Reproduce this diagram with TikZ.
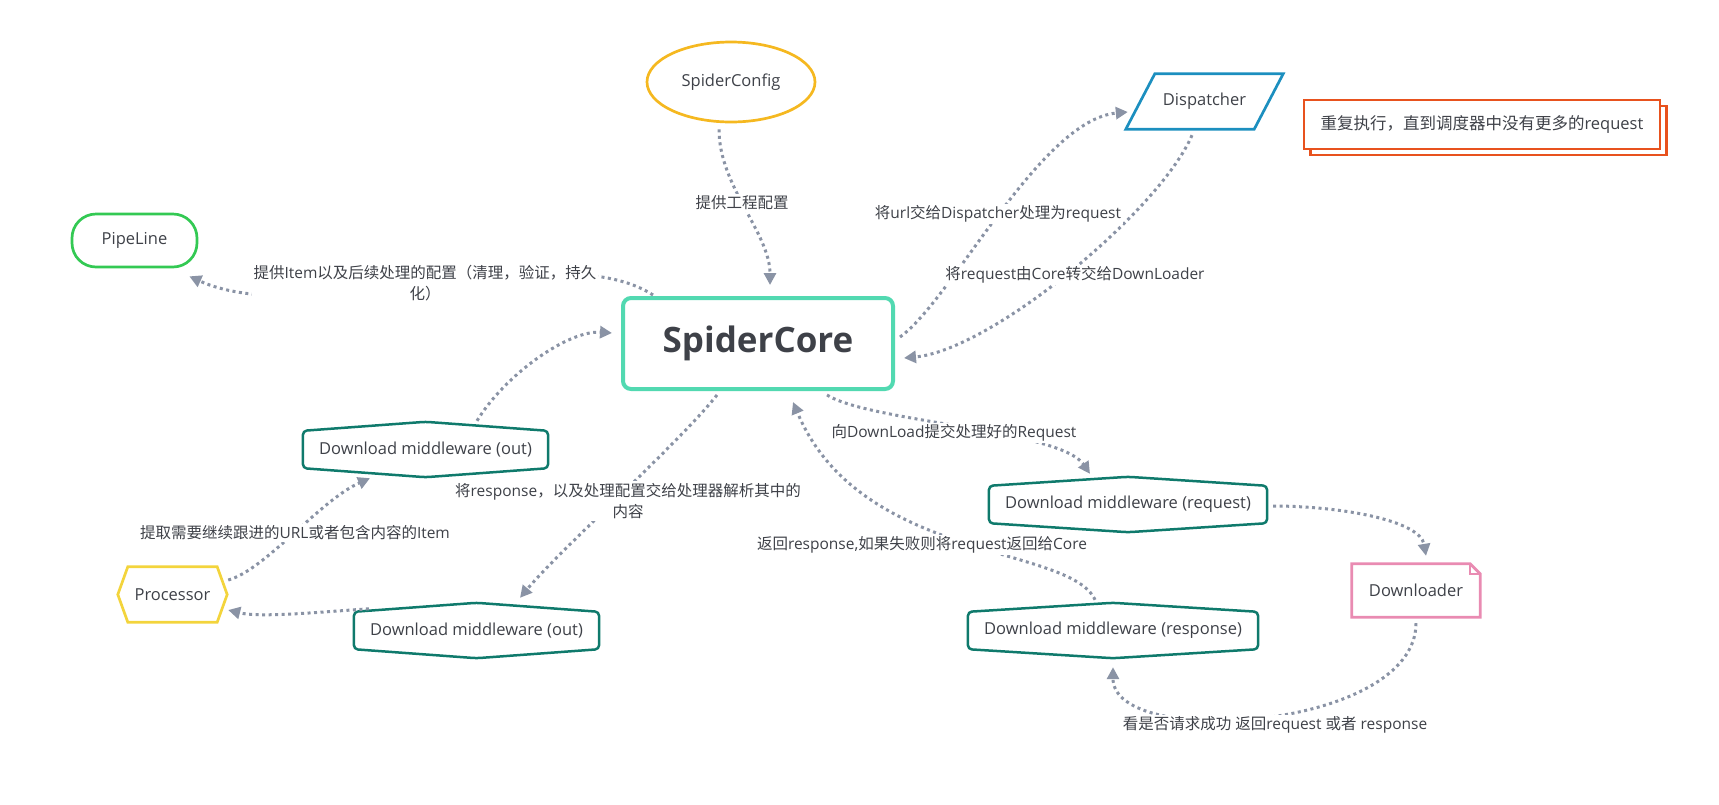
\documentclass[tikz,border=0pt]{standalone}
\usepackage{fontspec}
\setmainfont{Open Sans}
\newfontfamily\cjk{Noto Sans CJK SC}
\usepackage{tikz}
\usetikzlibrary{arrows.meta, shapes.geometric, shadows}
\definecolor{txt}{HTML}{3E4148}
\definecolor{linkgray}{HTML}{8A93A5}
\definecolor{coreline}{HTML}{52D9B1}
\definecolor{cfgline}{HTML}{F5B820}
\definecolor{displine}{HTML}{1C8FBF}
\definecolor{pipeline}{HTML}{33C953}
\definecolor{mwline}{HTML}{0F7A6C}
\definecolor{procline}{HTML}{F3D43C}
\definecolor{dlline}{HTML}{E98BB2}
\definecolor{noteline}{HTML}{E8521E}
\newcommand{\zh}[1]{{\cjk #1}}

\begin{document}
\begin{tikzpicture}[x=1pt, y=-1pt,
  every node/.style={text=txt, font=\fontsize{16.5}{20}\selectfont},
  mw/.style={minimum height=55pt, inner xsep=16pt, inner ysep=0pt},
  mwedge/.style={draw=mwline, line width=2.5pt, rounded corners=4pt},
  lbl/.style={fill=white, inner sep=2pt, align=center, font=\fontsize{15.5}{21.5}\selectfont},
  conn/.style={linkgray, line width=3pt, dash pattern=on 3pt off 3.5pt, -{Triangle[length=12pt,width=12pt]}}]
\useasboundingbox (0,0) rectangle (1719,804);

\node[draw=cfgline, line width=2.7pt, ellipse, minimum width=168pt, minimum height=80pt, inner sep=0pt] (cfg) at (731,82) {SpiderConfig};
\node[draw=coreline, line width=4pt, rounded corners=8pt, minimum width=270pt, minimum height=91pt, font=\fontsize{35}{40}\selectfont\bfseries] (core) at (758,343.5) {SpiderCore};
\node[minimum width=157pt, minimum height=55pt] (disp) at (1204.5,101.5) {Dispatcher};
\node[draw=noteline, line width=2.5pt, fill=white, minimum width=356pt, minimum height=49pt, copy shadow={shadow xshift=6.5pt, shadow yshift=-6pt}] (note) at (1482,124.5) {\zh{重复执行，直到调度器中没有更多的}request};
\node[draw=pipeline, line width=2.7pt, rounded corners=24pt, minimum width=125pt, minimum height=53pt] (pipe) at (134.5,240.5) {PipeLine};
\node[mw] (mwA) at (425.5,449.5) {Download middleware (out)};
\node[mw] (mwB) at (476.5,630.5) {Download middleware (out)};
\node[mw] (mwReq) at (1128,504.5) {Download middleware (request)};
\node[mw] (mwResp) at (1113,630.5) {Download middleware (response)};
\node[minimum width=109pt, minimum height=55pt] (proc) at (172.5,594.5) {Processor};
\node[minimum width=128pt, minimum height=53pt] (dl) at (1416,590.5) {Downloader};

\draw[displine, line width=2.7pt] (disp.south west) -- ([xshift=29pt]disp.north west) -- (disp.north east) -- ([xshift=-29pt]disp.south east) -- cycle;
\foreach \n in {mwA,mwB,mwReq,mwResp}
  \draw[mwedge] (\n.north) -- ([yshift=-9pt]\n.north east) -- ([yshift=9pt]\n.south east) -- (\n.south) -- ([yshift=9pt]\n.south west) -- ([yshift=-9pt]\n.north west) -- cycle;
\draw[procline, line width=2.7pt] (proc.west) -- ([xshift=10pt]proc.north west) -- ([xshift=-10pt]proc.north east) -- (proc.east) -- ([xshift=-10pt]proc.south east) -- ([xshift=10pt]proc.south west) -- cycle;
\draw[dlline, line width=2.7pt] (dl.south west) -- (dl.north west) -- ([xshift=-10pt]dl.north east) -- ([yshift=-10pt]dl.north east) -- (dl.south east) -- cycle;
\draw[dlline, line width=2pt] ([xshift=-10pt]dl.north east) -- ([xshift=-10pt,yshift=-10pt]dl.north east) -- ([yshift=-10pt]dl.north east);

\draw[conn] ([xshift=-12pt,yshift=-6pt]cfg.south) .. controls +(0,57) and +(0,-52) .. ([xshift=12pt,yshift=11pt]core.north);
\draw[conn] ([xshift=32pt,yshift=1pt]core.north west) .. controls +(-95,-62) and +(122,55) .. ([xshift=-9pt,yshift=-8pt]pipe.south east);
\draw[conn] ([xshift=5pt,yshift=6.5pt]core.east) .. controls +(52,-37) and +(-88,8) .. ([xshift=2pt,yshift=-10.5pt]disp.west);
\draw[conn] ([xshift=-12.5pt,yshift=-6pt]disp.south) .. controls +(-32,75) and +(88,-8) .. ([xshift=9pt,yshift=-14.5pt]core.east);
\draw[conn] ([xshift=51.5pt,yshift=1pt]mwA.north) .. controls +(28,-46) and +(-44,-3) .. ([xshift=-9pt,yshift=10.5pt]core.west);
\draw[conn] ([xshift=-41pt,yshift=-4pt]core.south) .. controls +(-37,47) and +(40,-48) .. ([xshift=43.5pt,yshift=5pt]mwB.north);
\draw[conn] ([xshift=69pt,yshift=-4pt]core.south) .. controls +(43,27) and +(-30,-44) .. ([xshift=-38pt,yshift=3pt]mwReq.north);
\draw[conn] ([xshift=-18pt,yshift=3pt]mwResp.north) .. controls +(-25,-55) and +(67,160) .. ([xshift=35pt,yshift=-11pt]core.south);
\draw[conn] ([xshift=6pt,yshift=-1.5pt]mwReq.east) .. controls +(65,0) and +(-6,-36) .. ([xshift=10pt,yshift=8pt]dl.north);
\draw[conn] ([yshift=-6pt]dl.south) .. controls +(0,107) and +(0,83) .. ([yshift=-9pt]mwResp.south);
\draw[conn] ([xshift=1pt,yshift=14.5pt]proc.east) .. controls +(37,-10) and +(-50,22) .. ([xshift=-55.5pt,yshift=-1pt]mwA.south);
\draw[conn] ([xshift=15pt,yshift=-6pt]mwB.north west) .. controls +(-47,3) and +(32,8) .. ([xshift=1pt,yshift=-15.5pt]proc.east);

\node[lbl] (tCfg) at (742,203) {\zh{提供工程配置}};
\node[lbl] (tPipe) at (425,283) {\zh{提供}Item\zh{以及后续处理的配置（清理，验证，持久}\\\zh{化）}};
\node[lbl] (tDisp) at (998,214) {\zh{将}url\zh{交给}Dispatcher\zh{处理为}request};
\node[lbl] (tBack) at (1075,275) {\zh{将}request\zh{由}Core\zh{转交给}DownLoader};
\node[lbl] (tReq) at (954,433) {\zh{向}DownLoad\zh{提交处理好的}Request};
\node[lbl] (tOut) at (628,501) {\zh{将}response\zh{，以及处理配置交给处理器解析其中的}\\\zh{内容}};
\node[lbl] (tProc) at (295,533) {\zh{提取需要继续跟进的}URL\zh{或者包含内容的}Item};
\node[lbl] (tResp) at (922,545) {\zh{返回}response,\zh{如果失败则将}request\zh{返回给}Core};
\node[lbl] (tDl) at (1275,725) {\zh{看是否请求成功} \zh{返回}request \zh{或者} response};
\end{tikzpicture}
\end{document}
